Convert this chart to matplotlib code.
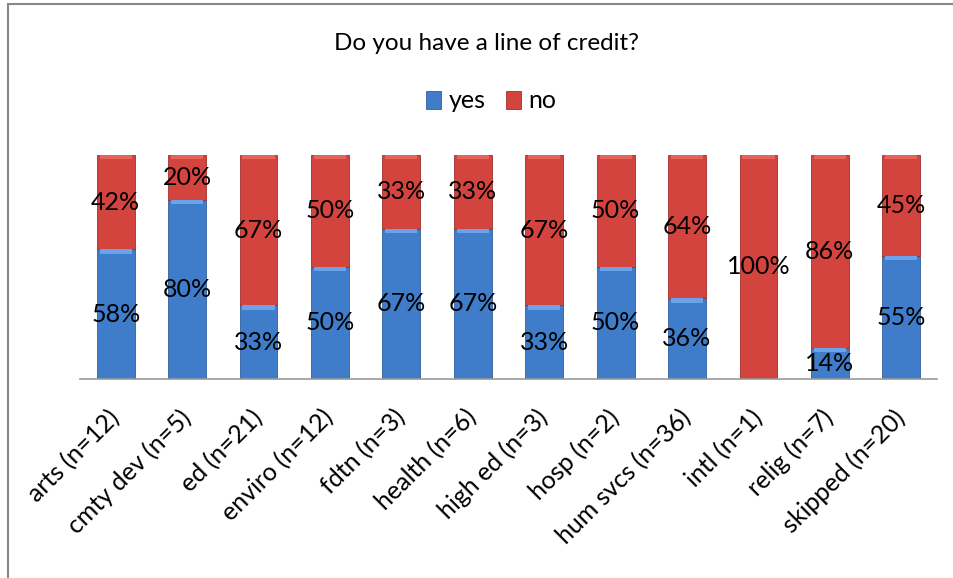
import matplotlib.pyplot as plt
from matplotlib.patches import Rectangle
import numpy as np

plt.rcParams['font.family'] = ['Lato', 'DejaVu Sans']

categories = ['arts (n=12)', 'cmty dev (n=5)', 'ed (n=21)', 'enviro (n=12)',
              'fdtn (n=3)', 'health (n=6)', 'high ed (n=3)', 'hosp (n=2)',
              'hum svcs (n=36)', 'intl (n=1)', 'relig (n=7)', 'skipped (n=20)']
yes = [58, 80, 33, 50, 67, 67, 33, 50, 36, 0, 14, 55]
no = [42, 20, 67, 50, 33, 33, 67, 50, 64, 100, 86, 45]

blue = '#3f7dca'
blue_top = '#6aa3ea'
red = '#d4443f'
red_top = '#e8625d'

fig = plt.figure(figsize=(9.54, 5.78), dpi=100)
ax = fig.add_axes([80/954, 1-379/578, (937-80)/954, 224/578])

x = np.arange(len(categories))
w = 0.53
yes_f = np.array(yes) / 100
no_f = np.array(no) / 100

b1 = ax.bar(x, yes_f, w, color=blue, edgecolor='#2f5f9c', linewidth=0.6, label='yes')
b2 = ax.bar(x, no_f, w, bottom=yes_f, color=red, edgecolor='#9e2f2b', linewidth=0.6, label='no')

# bevel highlight at the top of each segment
bev = 0.02
for i in range(len(x)):
    if yes_f[i] > 0:
        ax.bar(x[i], bev, w * 0.85, bottom=yes_f[i] - bev, color=blue_top, linewidth=0)
    if no_f[i] > 0:
        ax.bar(x[i], bev, w * 0.85, bottom=yes_f[i] + no_f[i] - bev, color=red_top, linewidth=0)

for i in range(len(x)):
    if yes[i] > 0:
        ax.text(x[i], yes_f[i] / 2, f'{yes[i]}%', ha='center', va='center', fontsize=18)
    if no[i] > 0:
        ax.text(x[i], yes_f[i] + no_f[i] / 2, f'{no[i]}%', ha='center', va='center', fontsize=18)

ax.set_xlim(-0.5, len(x) - 0.5)
ax.set_ylim(0, 1)
ax.set_yticks([])
ax.set_xticks(x)
ax.set_xticklabels(categories, rotation=45, ha='right', va='center', rotation_mode='anchor', fontsize=18)
ax.tick_params(axis='x', length=0, pad=25)
for s in ['top', 'right', 'left']:
    ax.spines[s].set_visible(False)
ax.spines['bottom'].set_color('#999999')
ax.spines['bottom'].set_linewidth(1.2)

fig.text(487/954, 1-44/578, 'Do you have a line of credit?', ha='center', va='center', fontsize=17.5)
fig.legend(handles=[b1, b2], labels=['yes', 'no'], loc='center', bbox_to_anchor=(491/954, 1-101/578),
           ncol=2, frameon=False, fontsize=18, handlelength=0.6, handleheight=0.7,
           handletextpad=0.3, columnspacing=0.8)

# chart border (cut off at right and bottom)
fig.patches.append(Rectangle((8/954, -0.1), 1.2, 1 - 4/578 + 0.1, transform=fig.transFigure,
                             fill=False, edgecolor='#888888', linewidth=1.5))

fig.savefig('out.png', dpi=100)
